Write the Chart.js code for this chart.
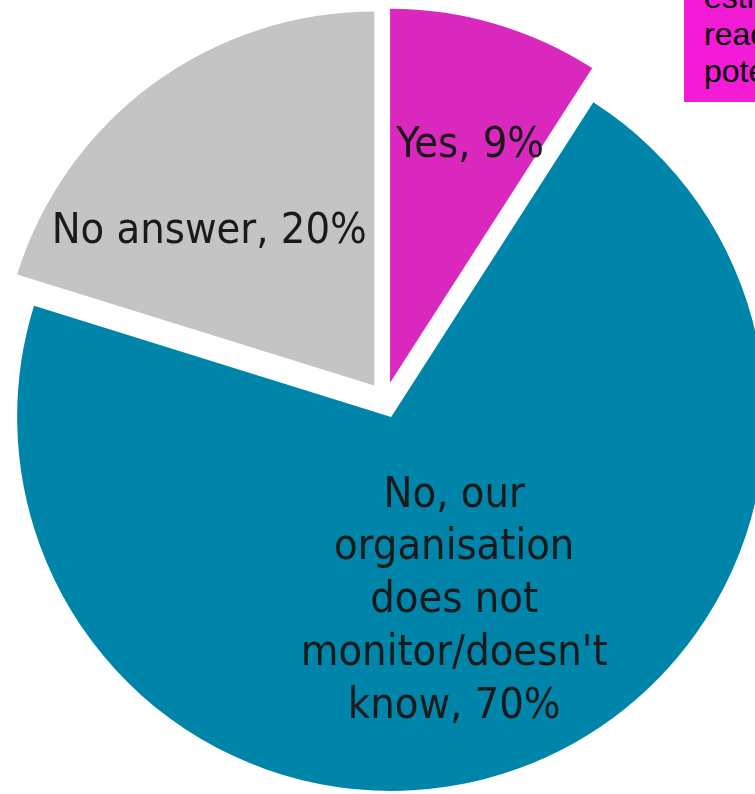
<!DOCTYPE html>
<html>
<head>
<meta charset="utf-8">
<script src="https://cdn.jsdelivr.net/npm/chart.js@4"></script>
<style>
  html, body { margin: 0; padding: 0; background: #ffffff; overflow: hidden; }
  #chart-wrap { position: absolute; left: 0; top: 0; width: 770px; height: 800px; }
  #note-box {
    position: absolute; left: 684px; top: 0; width: 200px; height: 102px;
    background: #f41bd6; overflow: hidden;
    font-family: "Liberation Sans", Arial, sans-serif; font-size: 32px; line-height: 37px;
    color: #000000; padding: 0 0 0 20px; box-sizing: border-box; white-space: nowrap;
  }
  #note-box div { position: relative; top: -21px; }
</style>
</head>
<body>
<div id="chart-wrap"><canvas id="pie-chart"></canvas></div>
<div id="note-box"><div>esti<br>reac<br>pote</div></div>
<script>
const labels = ["Yes", "No, our organisation does not monitor/doesn't know", "No answer"];
const labelLines = [
  ["Yes, 9%"],
  ["No, our", "organisation", "does not", "monitor/doesn't", "know, 70%"],
  ["No answer, 20%"],
];
const values = [9, 70, 20];
const sliceColors = ["#da28be", "#0085aa", "#c4c4c4"];

// every slice is pulled out of the centre by the same distance, radius unchanged
// (the built-in `offset` also grows some arcs, so the shift is done here instead)
const slicePull = 18;
const pieRadius = 374;
// where each label sits: fraction of radius along the slice mid-angle, plus a small angle nudge
const labelRadius = [0.68, 0.51, 0.61];
const labelAngleShift = [2, 0.7, -10];

const pullSlices = {
  id: "pullSlices",
  beforeDatasetDraw(chart, args) {
    args.meta.data.forEach((arc) => {
      if (arc._pulled) {
        return;
      }
      const baseDraw = arc.draw;
      arc.draw = function (ctx, area) {
        const mid = (this.startAngle + this.endAngle) / 2;
        ctx.save();
        ctx.translate(Math.cos(mid) * slicePull, Math.sin(mid) * slicePull);
        baseDraw.call(this, ctx, area);
        ctx.restore();
      };
      arc._pulled = true;
    });
  },
};

const sliceLabels = {
  id: "sliceLabels",
  afterDatasetsDraw(chart) {
    const { ctx } = chart;
    const meta = chart.getDatasetMeta(0);
    ctx.save();
    ctx.fillStyle = "#1a1a1a";
    ctx.font = '43px "DejaVu Sans Condensed", "DejaVu Sans", sans-serif';
    ctx.textAlign = "center";
    ctx.textBaseline = "middle";
    meta.data.forEach((arc, i) => {
      const { x, y, startAngle, endAngle, outerRadius } = arc.getProps(
        ["x", "y", "startAngle", "endAngle", "outerRadius"],
        true,
      );
      const mid = (startAngle + endAngle) / 2;
      const ax = x + Math.cos(mid) * slicePull;
      const ay = y + Math.sin(mid) * slicePull;
      const a = mid + (labelAngleShift[i] * Math.PI) / 180;
      const r = outerRadius * labelRadius[i];
      const cx = ax + Math.cos(a) * r;
      const cy = ay + Math.sin(a) * r + 4;
      const lines = labelLines[i];
      const lh = 52.8;
      lines.forEach((line, k) => {
        ctx.fillText(line, cx, cy + (k - (lines.length - 1) / 2) * lh);
      });
    });
    ctx.restore();
  },
};

new Chart(document.getElementById("pie-chart"), {
  type: "pie",
  data: {
    labels: labels,
    datasets: [
      {
        data: values,
        backgroundColor: sliceColors,
        borderWidth: 0,
        radius: pieRadius,
      },
    ],
  },
  options: {
    responsive: true,
    maintainAspectRatio: false,
    animation: false,
    layout: { padding: 0 },
    plugins: {
      legend: { display: false },
      tooltip: { enabled: false },
    },
  },
  plugins: [pullSlices, sliceLabels],
});
</script>
</body>
</html>
